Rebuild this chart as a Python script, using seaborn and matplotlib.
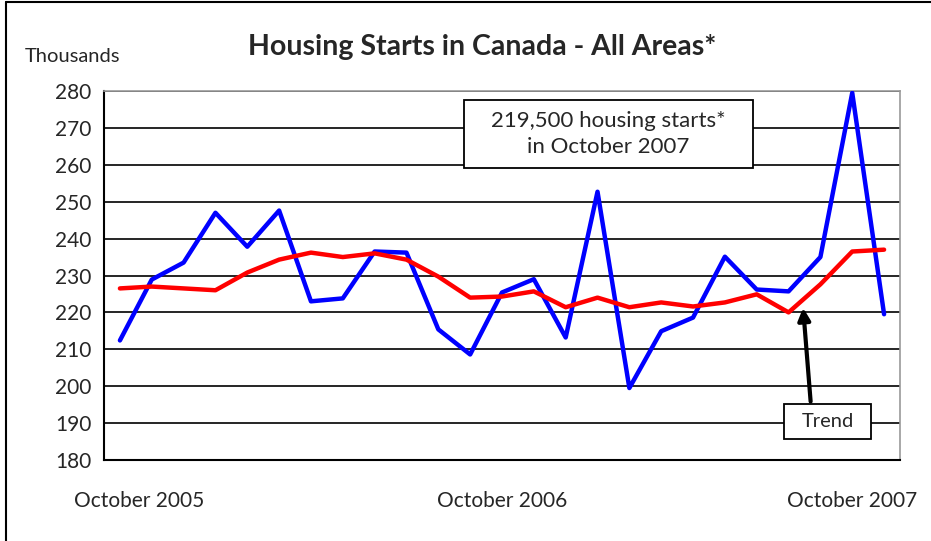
import pandas as pd
import seaborn as sns
import matplotlib.pyplot as plt
from matplotlib.lines import Line2D
from matplotlib.patches import Rectangle
plt.switch_backend('agg')

# monthly housing starts, Oct 2005 .. Oct 2007 (thousands, SAAR)
months = pd.date_range('2005-10-01', '2007-10-01', freq='MS').strftime('%b %Y').tolist()
starts = [212.4, 228.9, 233.5, 247.0, 237.8, 247.6, 223.0, 223.8, 236.5, 236.2, 215.4, 208.6, 225.4,
          229.0, 213.2, 252.7, 199.5, 214.9, 218.6, 235.1, 226.2, 225.7, 235.0, 279.5, 219.5]
trend = [226.5, 227.0, 226.5, 226.0, 230.8, 234.3, 236.2, 235.0, 236.0, 234.3, 229.7, 224.0, 224.3,
         225.7, 221.4, 224.0, 221.4, 222.7, 221.6, 222.7, 224.9, 220.0, 227.6, 236.5, 237.0]
y_ticks = list(range(180, 290, 10))
x_labels = ['October 2005', 'October 2006', 'October 2007']

df = pd.DataFrame({'idx': range(len(months)), 'month': months, 'Starts': starts, 'Trend': trend})
df_long = df.melt(id_vars=['idx', 'month'], value_vars=['Starts', 'Trend'], var_name='series', value_name='value')

sns.set_style('white')
plt.rcParams['font.family'] = ['Lato', 'DejaVu Sans']

fig = plt.figure(figsize=(9.31, 5.41), dpi=100)
ax = fig.add_axes([104 / 931, 1 - 460 / 541, 796 / 931, 369 / 541])

for y in y_ticks[1:]:
    ax.axhline(y, color='black', lw=1.2, zorder=1)

sns.lineplot(data=df_long, x='idx', y='value', hue='series', palette={'Starts': '#0000FF', 'Trend': '#FF0000'},
             lw=3.2, legend=False, ax=ax, zorder=3)

ax.set_xlim(-0.5, 24.5)
ax.set_ylim(180, 280)
ax.set_yticks(y_ticks)
ax.set_yticklabels([str(v) for v in y_ticks], fontsize=15)
ax.set_xticks([-0.5, 11.5, 23.5])
ax.set_xticklabels([])
ax.set_xticks([0.6, 12.0, 23.0], minor=True)
ax.set_xticklabels(x_labels, minor=True, fontsize=15)
ax.tick_params(axis='x', which='minor', length=0, pad=22)
ax.tick_params(axis='both', which='major', direction='out', length=6, width=1.2, color='black')
ax.tick_params(axis='y', pad=3)
ax.set_xlabel('')
ax.set_ylabel('')
for side in ['left', 'bottom']:
    ax.spines[side].set_color('black')
    ax.spines[side].set_linewidth(1.5)
for side in ['top', 'right']:
    ax.spines[side].set_color('#999999')
    ax.spines[side].set_linewidth(1.2)

fig.text(482 / 931, 1 - 47 / 541, 'Housing Starts in Canada - All Areas*', ha='center', va='center',
         fontsize=20.5, fontweight='bold')
fig.text(25 / 931, 1 - 57 / 541, 'Thousands', ha='left', va='center', fontsize=14.5)

# callout box
ax.add_patch(Rectangle((10.8, 259.2), 9.07, 18.4, fc='white', ec='black', lw=1.3, zorder=5))
ax.text(15.33, 268.4, '219,500 housing starts*\nin October 2007', ha='center', va='center', fontsize=16,
        linespacing=1.4, zorder=6)

# trend label and arrow
ax.annotate('', xy=(21.45, 222.0), xytext=(21.7, 195.1),
            arrowprops=dict(arrowstyle='-|>', color='black', lw=3, mutation_scale=18), zorder=6)
ax.add_patch(Rectangle((20.85, 185.7), 2.74, 9.4, fc='white', ec='black', lw=1.3, zorder=5))
ax.text(22.22, 190.4, 'Trend', ha='center', va='center', fontsize=14.5, zorder=6)

# outer chart frame on the left and top
fig.add_artist(Line2D([6 / 931, 6 / 931], [0, 1 - 2 / 541], color='black', lw=1.5, transform=fig.transFigure))
fig.add_artist(Line2D([6 / 931, 1], [1 - 2 / 541, 1 - 2 / 541], color='black', lw=1.5, transform=fig.transFigure))

plt.savefig('out.png', dpi=100)
plt.close()
